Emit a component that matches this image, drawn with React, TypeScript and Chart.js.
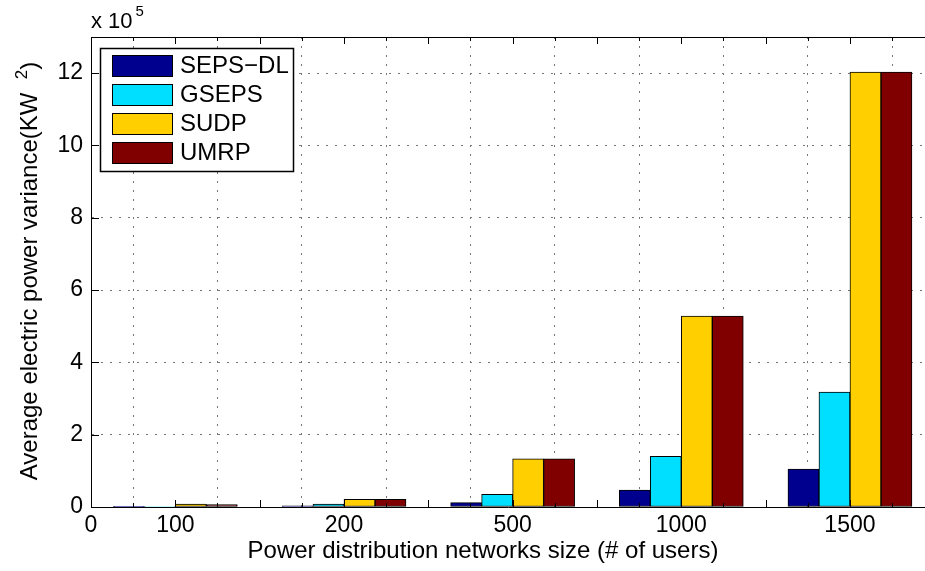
import React, { useEffect, useRef } from 'react';
import { Chart, registerables } from 'chart.js';

Chart.register(...registerables);

// ---- data ----
const categories = ['100', '200', '500', '1000', '1500'];
const groupX = [1, 3, 5, 7, 9];
const seriesNames = ['SEPS\u2212DL', 'GSEPS', 'SUDP', 'UMRP'];
const sepsDL = [0.01, 0.03, 0.12, 0.47, 1.05];
const gseps = [0.015, 0.08, 0.35, 1.4, 3.18];
const sudp = [0.08, 0.21, 1.33, 5.28, 12.03];
const umrp = [0.07, 0.21, 1.33, 5.28, 12.03];
const seriesColors = ['#00008F', '#00DFFF', '#FFCF00', '#800000'];
const yTicks = [0, 2, 4, 6, 8, 10, 12];
const xOriginLabel = '0';
const xTitle = 'Power distribution networks size (# of users)';
const yTitleMain = 'Average electric power variance(KW';
const yTitleSup = '2';
const yTitleEnd = ')';
const multiplierBase = 'x 10';
const multiplierExp = '5';

const FONT = "'Liberation Sans', Arial, Helvetica, sans-serif";
const X_MAX = 9.89;
const Y_MAX = 13;

const matlabPlugin = {
  id: 'matlabDecor',
  afterDraw(chart: any) {
    const ctx = chart.ctx as CanvasRenderingContext2D;
    const { left, right, top, bottom } = chart.chartArea;
    const xs = chart.scales.x;
    const ys = chart.scales.y;
    ctx.save();
    ctx.strokeStyle = '#000';
    ctx.lineWidth = 1;
    // top border
    ctx.beginPath();
    ctx.moveTo(left, top + 0.5);
    ctx.lineTo(right, top + 0.5);
    ctx.stroke();
    // x ticks (inside, top and bottom)
    for (let v = 0; v <= X_MAX + 1e-9; v += 0.5) {
      const px = Math.round(xs.getPixelForValue(v)) + 0.5;
      const len = Math.abs(v - Math.round(v)) < 1e-9 ? 7 : 4;
      ctx.beginPath();
      ctx.moveTo(px, bottom);
      ctx.lineTo(px, bottom - len);
      ctx.moveTo(px, top);
      ctx.lineTo(px, top + len);
      ctx.stroke();
    }
    // y ticks inside
    yTicks.forEach((t) => {
      const py = Math.round(ys.getPixelForValue(t)) + 0.5;
      ctx.beginPath();
      ctx.moveTo(left, py);
      ctx.lineTo(left + 8, py);
      ctx.stroke();
    });

    // legend
    const lx = left + 9;
    const ly = top + 11;
    const lw = 193;
    const lh = 123;
    ctx.fillStyle = '#fff';
    ctx.fillRect(lx, ly, lw, lh);
    ctx.lineWidth = 1.5;
    ctx.strokeRect(lx + 0.5, ly + 0.5, lw, lh);
    ctx.lineWidth = 1;
    ctx.font = `24px ${FONT}`;
    ctx.textBaseline = 'middle';
    ctx.textAlign = 'left';
    chart.data.datasets.forEach((ds: any, i: number) => {
      const cy = ly + 17 + i * 29;
      ctx.fillStyle = ds.backgroundColor;
      ctx.fillRect(lx + 12, cy - 10, 60, 21);
      ctx.strokeStyle = '#000';
      ctx.strokeRect(lx + 12.5, cy - 9.5, 60, 21);
      ctx.fillStyle = '#000';
      ctx.fillText(ds.label, lx + 80, cy + 1);
    });

    // x title
    ctx.fillStyle = '#000';
    ctx.font = `24px ${FONT}`;
    ctx.textAlign = 'center';
    ctx.textBaseline = 'alphabetic';
    ctx.fillText(xTitle, 483, 558);

    // y title (rotated)
    ctx.save();
    ctx.translate(37, 271);
    ctx.rotate(-Math.PI / 2);
    ctx.textAlign = 'left';
    ctx.font = `24px ${FONT}`;
    const wMain = ctx.measureText(yTitleMain).width;
    const wSpace = ctx.measureText('  ').width;
    const wEnd = ctx.measureText(yTitleEnd).width;
    ctx.font = `17px ${FONT}`;
    const wSup = ctx.measureText(yTitleSup).width;
    const total = wMain + wSpace + wSup + wEnd;
    let x0 = -total / 2;
    ctx.font = `24px ${FONT}`;
    ctx.fillText(yTitleMain, x0, 0);
    x0 += wMain + wSpace;
    ctx.font = `17px ${FONT}`;
    ctx.fillText(yTitleSup, x0, -10);
    x0 += wSup;
    ctx.font = `24px ${FONT}`;
    ctx.fillText(yTitleEnd, x0, 0);
    ctx.restore();

    // multiplier
    ctx.textAlign = 'left';
    ctx.font = `22px ${FONT}`;
    ctx.fillText(multiplierBase, left, 28);
    const wb = ctx.measureText(multiplierBase).width;
    ctx.font = `15px ${FONT}`;
    ctx.fillText(multiplierExp, left + wb + 3, 16);
    ctx.restore();
  },
};

export default function App() {
  const ref = useRef<HTMLCanvasElement | null>(null);
  useEffect(() => {
    if (!ref.current) return;
    const series = [sepsDL, gseps, sudp, umrp];
    const labelMap: Record<number, string> = { 0: xOriginLabel };
    groupX.forEach((x, i) => (labelMap[x] = categories[i]));
    const chart = new Chart(ref.current, {
      type: 'bar',
      data: {
        datasets: series.map((vals, si) => ({
          label: seriesNames[si],
          data: vals.map((v, i) => ({ x: groupX[i], y: v })),
          backgroundColor: seriesColors[si],
          borderColor: '#000',
          borderWidth: 1,
          borderSkipped: false,
          barThickness: 31,
        })),
      },
      options: {
        animation: false,
        responsive: false,
        maintainAspectRatio: false,
        layout: { padding: { left: 0, right: 0, top: 37, bottom: 0 } },
        plugins: { legend: { display: false }, tooltip: { enabled: false } },
        scales: {
          x: {
            type: 'linear',
            min: 0,
            max: X_MAX,
            offset: false,
            afterFit: (s: any) => {
              s.height = 64;
            },
            ticks: {
              stepSize: 1,
              includeBounds: false,
              autoSkip: false,
              maxRotation: 0,
              padding: 5,
              color: '#000',
              font: { family: FONT, size: 23 },
              callback: (v: any) => (labelMap[Number(v)] !== undefined ? labelMap[Number(v)] : ''),
            },
            grid: { color: '#777', lineWidth: 1, drawTicks: false },
            border: { display: true, color: '#000', width: 1, dash: [2, 7] },
          },
          y: {
            type: 'linear',
            min: 0,
            max: Y_MAX,
            afterFit: (s: any) => {
              s.width = 91;
            },
            afterBuildTicks: (s: any) => {
              s.ticks = yTicks.map((v) => ({ value: v }));
            },
            ticks: {
              padding: 8,
              color: '#000',
              font: { family: FONT, size: 23 },
              callback: (v: any) => String(v),
            },
            grid: { color: '#777', lineWidth: 1, drawTicks: false },
            border: { display: true, color: '#000', width: 1, dash: [2, 7] },
          },
        },
      },
      plugins: [matlabPlugin],
    });
    return () => chart.destroy();
  }, []);
  return (
    <div style={{ position: 'absolute', left: 0, top: 0, width: 925, height: 571, overflow: 'hidden', background: '#fff' }}>
      <canvas ref={ref} width={925} height={571} style={{ display: 'block', width: 925, height: 571 }} />
    </div>
  );
}
